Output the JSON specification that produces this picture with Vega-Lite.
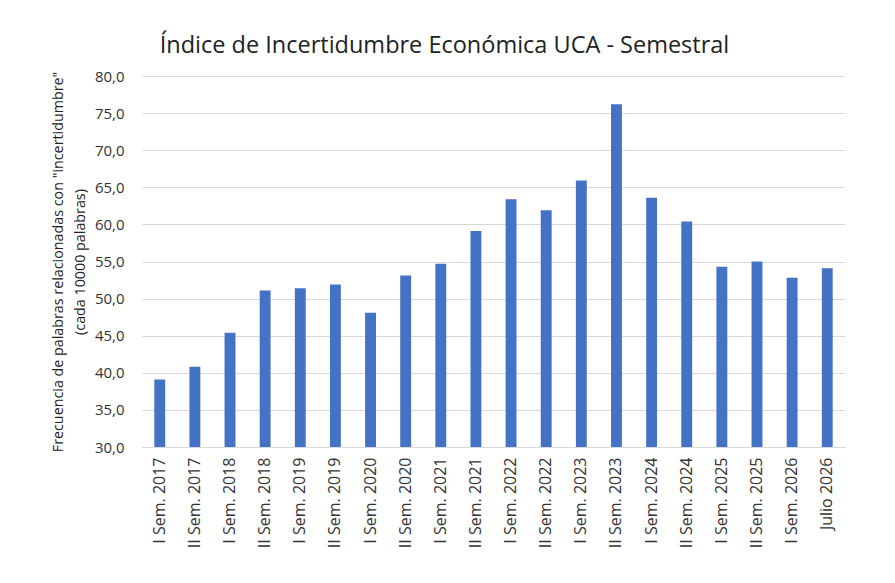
{
  "$schema": "https://vega.github.io/schema/vega-lite/v6.json",
  "width": 703,
  "height": 371,
  "autosize": {"type": "none"},
  "padding": {"left": 142, "top": 76, "right": 50, "bottom": 136},
  "background": "white",
  "view": {"stroke": null},
  "title": {
    "text": "Índice de Incertidumbre Económica UCA - Semestral",
    "fontSize": 23.5,
    "font": "Open Sans",
    "fontWeight": "normal",
    "color": "#222222",
    "anchor": "middle",
    "offset": 12,
    "dx": -49
  },
  "data": {
    "values": [
      {"periodo": "I Sem. 2017", "indice": 39.1},
      {"periodo": "II Sem. 2017", "indice": 40.8},
      {"periodo": "I Sem. 2018", "indice": 45.4},
      {"periodo": "II Sem. 2018", "indice": 51.1},
      {"periodo": "I Sem. 2019", "indice": 51.4},
      {"periodo": "II Sem. 2019", "indice": 51.9},
      {"periodo": "I Sem. 2020", "indice": 48.1},
      {"periodo": "II Sem. 2020", "indice": 53.1},
      {"periodo": "I Sem. 2021", "indice": 54.7},
      {"periodo": "II Sem. 2021", "indice": 59.1},
      {"periodo": "I Sem. 2022", "indice": 63.4},
      {"periodo": "II Sem. 2022", "indice": 61.9},
      {"periodo": "I Sem. 2023", "indice": 65.9},
      {"periodo": "II Sem. 2023", "indice": 76.2},
      {"periodo": "I Sem. 2024", "indice": 63.6},
      {"periodo": "II Sem. 2024", "indice": 60.4},
      {"periodo": "I Sem. 2025", "indice": 54.3},
      {"periodo": "II Sem. 2025", "indice": 55.0},
      {"periodo": "I Sem. 2026", "indice": 52.8},
      {"periodo": "Julio 2026", "indice": 54.1}
    ]
  },
  "mark": {"type": "bar", "color": "#4472C4", "clip": true},
  "encoding": {
    "x": {
      "field": "periodo",
      "type": "nominal",
      "sort": null,
      "scale": {"paddingInner": 0.69, "paddingOuter": 0.35},
      "axis": {
        "title": null,
        "labelAngle": -90,
        "labelFont": "Open Sans",
        "labelFontSize": 16,
        "labelColor": "#333333",
        "labelPadding": 10,
        "ticks": false,
        "domainColor": "#d9d9d9"
      }
    },
    "y": {
      "field": "indice",
      "type": "quantitative",
      "scale": {"domain": [30, 80], "nice": false, "zero": false},
      "axis": {
        "values": [30, 35, 40, 45, 50, 55, 60, 65, 70, 75, 80],
        "labelExpr": "replace(format(datum.value, '.1f'), '.', ',')",
        "title": ["Frecuencia de palabras relacionadas con \"incertidumbre\"", "(cada 10000 palabras)"],
        "titleFont": "Open Sans",
        "titleFontSize": 14.3,
        "titleFontWeight": "normal",
        "titleColor": "#222222",
        "titlePadding": 7,
        "titleLineHeight": 22,
        "labelFont": "Open Sans",
        "labelFontSize": 15,
        "labelColor": "#333333",
        "labelPadding": 18,
        "ticks": false,
        "domain": false,
        "gridColor": "#d9d9d9",
        "gridWidth": 1.2
      }
    }
  }
}
